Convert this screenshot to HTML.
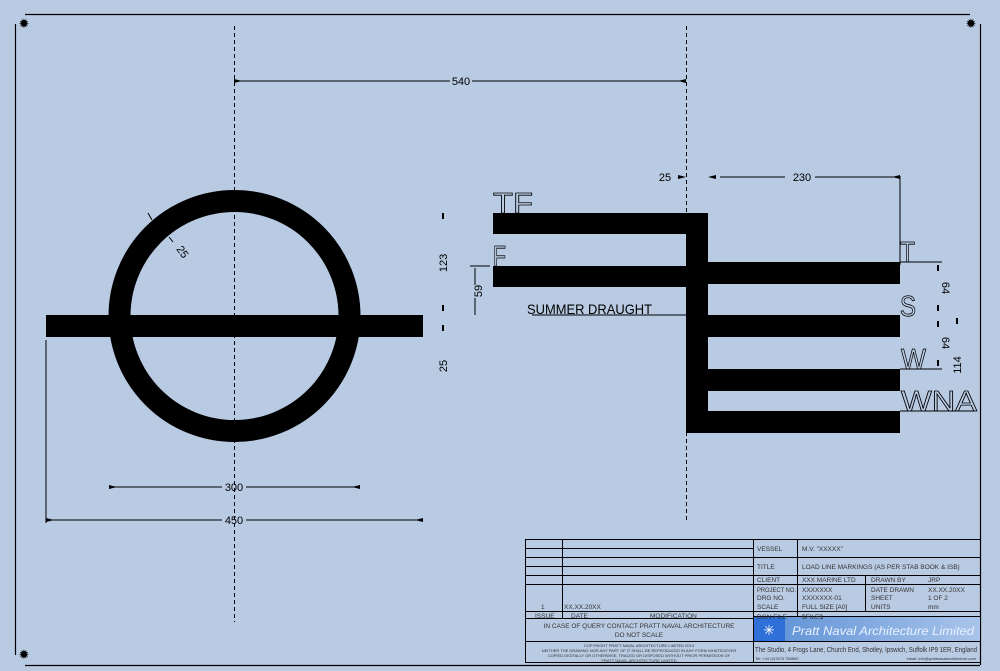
<!DOCTYPE html>
<html><head><meta charset="utf-8"><style>
html,body{margin:0;padding:0;background:#b9cbe3;}
svg{display:block}
text{font-family:"Liberation Sans",sans-serif}
</style></head><body>
<svg width="1000" height="671" viewBox="0 0 1000 671" xmlns="http://www.w3.org/2000/svg">
<rect width="1000" height="671" fill="#b9cbe3"/>
<g stroke="#000" stroke-width="1.2" fill="none">
<line x1="25" y1="14.5" x2="970" y2="14.5"/>
<line x1="15.5" y1="24" x2="15.5" y2="655"/>
<line x1="25" y1="665.5" x2="980" y2="665.5"/>
<line x1="980.5" y1="24" x2="980.5" y2="665"/>
</g>
<g fill="#000" font-size="13" text-anchor="middle">
<text x="24" y="28">✹</text><text x="971" y="28">✹</text><text x="24" y="659">✹</text>
</g>
<g stroke="#000" stroke-width="1" stroke-dasharray="4,3">
<line x1="234.5" y1="26" x2="234.5" y2="622"/>
<line x1="686.5" y1="26" x2="686.5" y2="522"/>
</g>
<circle cx="234.5" cy="316" r="115" fill="none" stroke="#000" stroke-width="22"/>
<rect x="46" y="315" width="377" height="22" fill="#000"/>
<g fill="#000">
<rect x="493" y="213" width="215" height="21"/>
<rect x="686" y="213" width="22" height="220"/>
<rect x="493" y="266" width="195" height="21"/>
<rect x="708" y="262" width="192" height="22"/>
<rect x="708" y="315" width="192" height="22"/>
<rect x="708" y="369" width="192" height="22"/>
<rect x="708" y="411" width="192" height="22"/>
</g>
<g fill="none" stroke="#000" stroke-width="0.8" font-size="29">
<text x="493" y="213" textLength="40" lengthAdjust="spacingAndGlyphs">TF</text>
<text x="493" y="266" textLength="13" lengthAdjust="spacingAndGlyphs">F</text>
<text x="900" y="262" textLength="15" lengthAdjust="spacingAndGlyphs">T</text>
<text x="900" y="316" textLength="16" lengthAdjust="spacingAndGlyphs">S</text>
<text x="901" y="369" textLength="25" lengthAdjust="spacingAndGlyphs">W</text>
<text x="901" y="411" textLength="76" lengthAdjust="spacingAndGlyphs">WNA</text>
</g>
<g stroke="#000" stroke-width="1" fill="none">
<line x1="234" y1="81" x2="450" y2="81"/><line x1="472" y1="81" x2="686" y2="81"/>
<line x1="109" y1="487" x2="222" y2="487"/><line x1="246" y1="487" x2="360" y2="487"/>
<line x1="46" y1="520" x2="222" y2="520"/><line x1="246" y1="520" x2="423" y2="520"/>
<line x1="46" y1="340" x2="46" y2="523"/>
<line x1="720" y1="177" x2="785" y2="177"/><line x1="815" y1="177" x2="900" y2="177"/>
<line x1="900" y1="176" x2="900" y2="265"/>
<line x1="900" y1="262" x2="942" y2="262"/>
<line x1="900" y1="369" x2="942" y2="369"/>
<line x1="900" y1="411" x2="975" y2="411"/>
<line x1="532" y1="315" x2="686" y2="315"/>
<line x1="470" y1="266" x2="490" y2="266"/>
<line x1="475" y1="268" x2="475" y2="285"/><line x1="475" y1="298" x2="475" y2="315"/>
<line x1="148" y1="213" x2="152" y2="220"/><line x1="169" y1="237" x2="173" y2="242"/>
</g>
<g fill="#000">
<polygon points="234,79 242,81 234,83"/>
<polygon points="686,79 678,81 686,83"/>
<polygon points="109,485 117,487 109,489"/><polygon points="360,485 352,487 360,489"/>
<polygon points="46,518 54,520 46,522"/><polygon points="423,518 415,520 423,522"/>
<polygon points="678,175 686,177 678,179"/><polygon points="716,175 708,177 716,179"/>
<polygon points="900,175 892,177 900,179"/>
<rect x="442" y="213" width="2" height="6"/><rect x="442" y="305" width="2" height="6"/>
<rect x="442" y="325" width="2" height="6"/>
<rect x="937" y="265" width="2" height="6"/><rect x="937" y="305" width="2" height="6"/>
<rect x="937" y="321" width="2" height="6"/><rect x="937" y="360" width="2" height="6"/>
<rect x="956" y="318" width="2" height="6"/>
</g>
<g fill="#000" font-size="11">
<text x="461" y="85" text-anchor="middle">540</text>
<text x="234" y="491" text-anchor="middle">300</text>
<text x="234" y="524" text-anchor="middle">450</text>
<text x="665" y="181" text-anchor="middle">25</text>
<text x="802" y="181" text-anchor="middle">230</text>
<text x="527" y="314" font-size="14" textLength="125" lengthAdjust="spacingAndGlyphs">SUMMER DRAUGHT</text>
<text transform="translate(447,263) rotate(-90)" text-anchor="middle">123</text>
<text transform="translate(447,366) rotate(-90)" text-anchor="middle">25</text>
<text transform="translate(482,291) rotate(-90)" text-anchor="middle">59</text>
<text transform="translate(942,288) rotate(90)" text-anchor="middle">64</text>
<text transform="translate(942,343) rotate(90)" text-anchor="middle">64</text>
<text transform="translate(961,365) rotate(-90)" text-anchor="middle">114</text>
<text transform="translate(176,249) rotate(55)">25</text>
</g>
<defs><linearGradient id="lg" x1="0" x2="1"><stop offset="0" stop-color="#5b8fd6"/><stop offset="1" stop-color="#a9c4ea"/></linearGradient></defs>
<rect x="753" y="616" width="227" height="26" fill="url(#lg)"/>
<rect x="753" y="616" width="32" height="26" fill="#2f6fd8"/>
<text x="769" y="635" fill="#fff" font-size="14" text-anchor="middle">✳</text>
<text x="792" y="635" fill="#e8f0ff" font-size="12" font-style="italic" textLength="182" lengthAdjust="spacingAndGlyphs">Pratt Naval Architecture Limited</text>
<g stroke="#000" stroke-width="1" fill="none">
<rect x="525.5" y="539.5" width="455" height="123"/>
<line x1="525" y1="548.5" x2="753" y2="548.5"/>
<line x1="525" y1="557.5" x2="980" y2="557.5"/>
<line x1="525" y1="566.5" x2="753" y2="566.5"/>
<line x1="525" y1="575.5" x2="980" y2="575.5"/>
<line x1="525" y1="584.5" x2="980" y2="584.5"/>
<line x1="525" y1="611.5" x2="980" y2="611.5"/>
<line x1="525" y1="618.5" x2="753" y2="618.5"/>
<line x1="753" y1="616.5" x2="980" y2="616.5"/>
<line x1="525" y1="641.5" x2="980" y2="641.5"/>
<line x1="562.5" y1="539" x2="562.5" y2="618"/>
<line x1="753.5" y1="539" x2="753.5" y2="662"/>
<line x1="797.5" y1="539" x2="797.5" y2="616"/>
<line x1="865.5" y1="575" x2="865.5" y2="611"/>
</g>
<g fill="#333" font-size="6.5">
<text x="757" y="551">VESSEL</text><text x="802" y="551">M.V. "XXXXX"</text>
<text x="757" y="569">TITLE</text><text x="802" y="569">LOAD LINE MARKINGS (AS PER STAB BOOK &amp; ISB)</text>
<text x="757" y="582">CLIENT</text><text x="802" y="582">XXX MARINE LTD</text><text x="871" y="582">DRAWN BY</text><text x="928" y="582">JRP</text>
<text x="757" y="592" textLength="39" lengthAdjust="spacingAndGlyphs">PROJECT NO.</text><text x="802" y="592">XXXXXXX</text><text x="871" y="592">DATE DRAWN</text><text x="928" y="592">XX.XX.20XX</text>
<text x="757" y="600">DRG NO.</text><text x="802" y="600">XXXXXXX-01</text><text x="871" y="600">SHEET</text><text x="928" y="600">1 OF 2</text>
<text x="757" y="609">SCALE</text><text x="802" y="609">FULL SIZE [A0]</text><text x="871" y="609">UNITS</text><text x="928" y="609">mm</text>
<text x="757" y="619">DGN FILE</text><text x="802" y="619">$FILE$</text>
<text x="541" y="609">1</text><text x="564" y="609">XX.XX.20XX</text>
<text x="535" y="618">ISSUE</text><text x="571" y="618">DATE</text><text x="650" y="618">MODIFICATION</text>
<text x="639" y="628" text-anchor="middle">IN CASE OF QUERY CONTACT PRATT NAVAL ARCHITECTURE</text>
<text x="639" y="637" text-anchor="middle">DO NOT SCALE</text>
<text x="639" y="647" text-anchor="middle" font-size="4">COPYRIGHT PRATT NAVAL ARCHITECTURE LIMITED 2010</text>
<text x="639" y="652" text-anchor="middle" font-size="4">NEITHER THE DRAWING NOR ANY PART OF IT SHALL BE REPRODUCED IN ANY FORM WHATSOEVER</text>
<text x="639" y="657" text-anchor="middle" font-size="4">COPIED DIGITALLY OR OTHERWISE, TRACED OR DISPOSED WITHOUT PRIOR PERMISSION OF</text>
<text x="639" y="662" text-anchor="middle" font-size="4">PRATT NAVAL ARCHITECTURE LIMITED</text>
<text x="755" y="652" font-size="7" textLength="222" lengthAdjust="spacingAndGlyphs">The Studio, 4 Frogs Lane, Church End, Shotley, Ipswich, Suffolk IP9 1ER, England</text>
<text x="755" y="660" font-size="4">Tel: +44 (0)7875 785890</text>
<text x="976" y="660" font-size="4" text-anchor="end">email: info@prattnavalarchitecture.com</text>
</g>
</svg>
</body></html>
